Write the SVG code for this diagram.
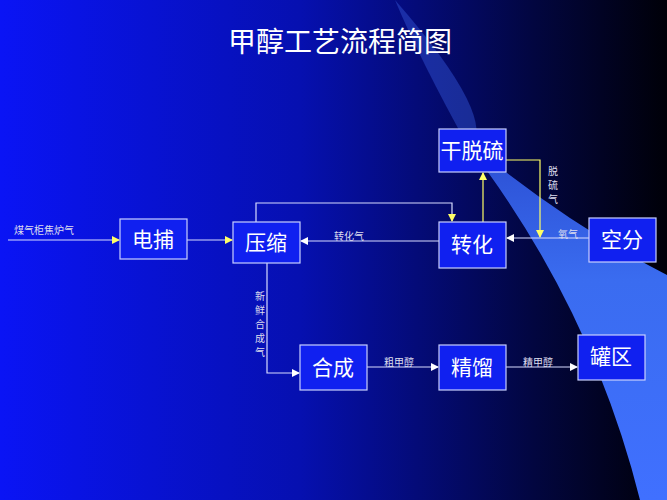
<svg xmlns="http://www.w3.org/2000/svg" width="667" height="500" viewBox="0 0 667 500">
<defs>
<linearGradient id="bg" x1="0" y1="0" x2="1" y2="0">
<stop offset="0" stop-color="#0a14f5"/><stop offset="0.45" stop-color="#0610b0"/><stop offset="0.8" stop-color="#020640"/><stop offset="1" stop-color="#000008"/>
</linearGradient>
<linearGradient id="sw" x1="0" y1="0" x2="0" y2="1">
<stop offset="0" stop-color="#2a4cd0"/><stop offset="0.4" stop-color="#3a6cf0"/><stop offset="1" stop-color="#4070ff"/>
</linearGradient>
<marker id="ay" markerWidth="8" markerHeight="8" refX="7" refY="4" orient="auto" markerUnits="userSpaceOnUse"><path d="M0,0 L8,4 L0,8 Z" fill="#ffff66"/></marker>
<marker id="aw" markerWidth="8" markerHeight="8" refX="7" refY="4" orient="auto" markerUnits="userSpaceOnUse"><path d="M0,0 L8,4 L0,8 Z" fill="#ffffff"/></marker>
<style>
.box{fill:#1020f0;stroke:#c8d0ff;stroke-width:1.2}
.t{fill:#fff;font-family:"Noto Sans CJK SC","Liberation Sans",sans-serif;font-size:21px;text-anchor:middle}
.s{fill:#dde;font-family:"Noto Sans CJK SC","Liberation Serif",serif;font-size:10px}
.w{fill:none;stroke:#d8dcff;stroke-width:1.2}
.y{fill:none;stroke:#ffff66;stroke-width:1.2}
</style>
</defs>
<rect width="667" height="500" fill="url(#bg)"/>
<path d="M395,0 Q420,60 470,150 Q500,120 395,0 Z" fill="#3050d0" opacity="0.5"/>
<path d="M460,135 Q590,300 640,500 L667,500 L667,275 Q560,220 460,135 Z" fill="url(#sw)"/>
<text x="340" y="52" class="t" style="font-size:28px">甲醇工艺流程简图</text>
<g id="connectors">
<path class="w" d="M8,240 H119" marker-end="url(#ay)"/>
<path class="w" d="M187,240 H232" marker-end="url(#ay)"/>
<path class="w" d="M256,222 V203 H452 V221" marker-end="url(#ay)"/>
<path class="w" d="M439,241 H301" marker-end="url(#aw)"/>
<path class="y" d="M483,222 V173" marker-end="url(#ay)"/>
<path class="y" d="M506,160 H540 V237" marker-end="url(#ay)"/>
<path class="w" d="M589,238 H507" marker-end="url(#aw)"/>
<path class="w" d="M267,263 V373 H299" marker-end="url(#aw)"/>
<path class="w" d="M367,367 H438" marker-end="url(#aw)"/>
<path class="w" d="M506,367 H577" marker-end="url(#aw)"/>
<text class="s" x="14" y="234">煤气柜焦炉气</text>
<text class="s" x="334" y="240">转化气</text>
<text class="s" x="558" y="238">氧气</text>
<text class="s" x="548" y="175">脱</text><text class="s" x="548" y="189">硫</text><text class="s" x="548" y="203">气</text>
<text class="s" x="255" y="300">新</text><text class="s" x="255" y="314">鲜</text><text class="s" x="255" y="328">合</text><text class="s" x="255" y="342">成</text><text class="s" x="255" y="356">气</text>
<text class="s" x="384" y="366">粗甲醇</text>
<text class="s" x="523" y="366">精甲醇</text>
</g>
<g id="dianbu"><rect class="box" x="120" y="219" width="67" height="40"/><text class="t" x="153" y="247">电捕</text></g>
<g id="yasuo"><rect class="box" x="233" y="222" width="67" height="41"/><text class="t" x="266" y="250">压缩</text></g>
<g id="zhuanhua"><rect class="box" x="439" y="222" width="67" height="46"/><text class="t" x="472" y="252">转化</text></g>
<g id="gantuoliu"><rect class="box" x="439" y="129" width="67" height="43"/><text class="t" x="472" y="158">干脱硫</text></g>
<g id="kongfen"><rect class="box" x="589" y="218" width="67" height="44"/><text class="t" x="622" y="247">空分</text></g>
<g id="hecheng"><rect class="box" x="300" y="345" width="67" height="45"/><text class="t" x="333" y="375">合成</text></g>
<g id="jingliu"><rect class="box" x="439" y="345" width="67" height="45"/><text class="t" x="472" y="375">精馏</text></g>
<g id="guanqu"><rect class="box" x="578" y="335" width="67" height="45"/><text class="t" x="611" y="364">罐区</text></g>
</svg>
